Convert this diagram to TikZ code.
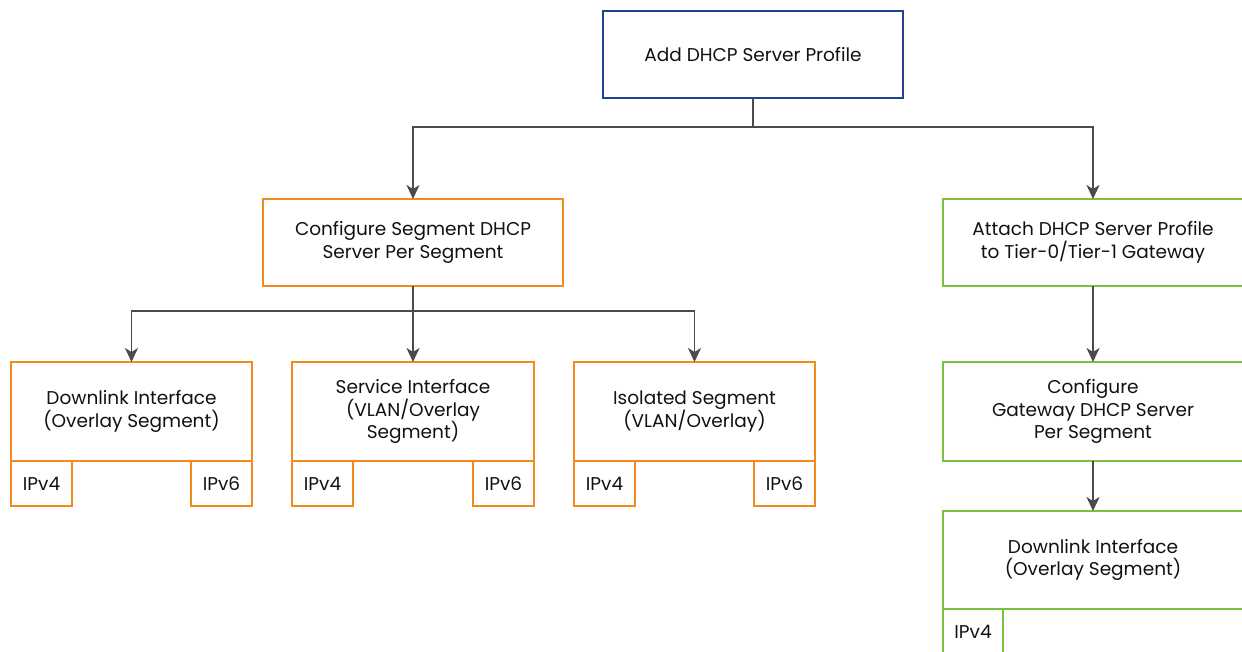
\documentclass[tikz,border=0pt]{standalone}
\usepackage{fontspec}
\setmainfont{Poppins}
\usetikzlibrary{arrows.meta}
\definecolor{vblue}{HTML}{1F438C}
\definecolor{vorange}{HTML}{F38B1C}
\definecolor{vgreen}{HTML}{7CC142}
\definecolor{vgray}{HTML}{4B4B4B}
\definecolor{vtext}{HTML}{111111}
\tikzset{
  box/.style={draw, line width=1.6pt, rectangle, inner sep=0pt, outer sep=0pt,
    align=center, text=vtext, font=\fontsize{18.5}{22.5}\selectfont},
  bluebox/.style={box, draw=vblue},
  orangebox/.style={box, draw=vorange},
  greenbox/.style={box, draw=vgreen},
  tagbox/.style={box, minimum width=61pt, minimum height=45pt},
  link/.style={draw=vgray, line width=1.8pt},
  arrow/.style={link, -{Stealth[length=14pt,width=13pt,inset=4pt]}}
}
\begin{document}
\begin{tikzpicture}[x=1pt,y=-1pt]
  \useasboundingbox (0,0) rectangle (1242,651);
  \clip (0,0) rectangle (1242,651);

  % root
  \node[bluebox, minimum width=300pt, minimum height=87pt] (root) at (753,54.5) {Add DHCP Server Profile};

  % second level
  \node[orangebox, minimum width=300pt, minimum height=87pt] (seg) at (413,242.5) {Configure Segment DHCP\\Server Per Segment};
  \node[greenbox, minimum width=300pt, minimum height=87pt] (gw) at (1093,242.5) {Attach DHCP Server Profile\\to Tier-0/Tier-1 Gateway};

  % segment DHCP targets
  \node[orangebox, minimum width=241pt, minimum height=99pt] (down) at (131.5,411.5) {Downlink Interface\\(Overlay Segment)};
  \node[orangebox, minimum width=242pt, minimum height=99pt] (svc) at (413,411.5) {Service Interface\\(VLAN/Overlay\\Segment)};
  \node[orangebox, minimum width=241pt, minimum height=99pt] (iso) at (694.5,411.5) {Isolated Segment\\(VLAN/Overlay)};

  \node[tagbox, draw=vorange, anchor=north west] (down4) at (down.south west) {IPv4};
  \node[tagbox, draw=vorange, anchor=north east] (down6) at (down.south east) {IPv6};
  \node[tagbox, draw=vorange, anchor=north west] (svc4) at (svc.south west) {IPv4};
  \node[tagbox, draw=vorange, anchor=north east] (svc6) at (svc.south east) {IPv6};
  \node[tagbox, draw=vorange, anchor=north west] (iso4) at (iso.south west) {IPv4};
  \node[tagbox, draw=vorange, anchor=north east] (iso6) at (iso.south east) {IPv6};

  % gateway DHCP chain
  \node[greenbox, minimum width=300pt, minimum height=99pt] (gwcfg) at (1093,411.5) {Configure\\Gateway DHCP Server\\Per Segment};
  \node[greenbox, minimum width=300pt, minimum height=98pt] (gwdown) at (1093,560) {Downlink Interface\\(Overlay Segment)};
  \node[tagbox, draw=vgreen, minimum width=60pt, anchor=north west] (gw4) at (gwdown.south west) {IPv4};

  % connectors
  \coordinate (j1) at (753,127);
  \coordinate (j2) at (413,311);
  \draw[link] (root.south) -- (j1);
  \draw[arrow] (j1) -| (seg.north);
  \draw[arrow] (j1) -| (gw.north);
  \draw[link] (seg.south) -- (j2);
  \draw[arrow] (j2) -| (down.north);
  \draw[arrow] (j2) -- (svc.north);
  \draw[arrow] (j2) -| (iso.north);
  \draw[arrow] (gw.south) -- (gwcfg.north);
  \draw[arrow] (gwcfg.south) -- (gwdown.north);
\end{tikzpicture}
\end{document}
